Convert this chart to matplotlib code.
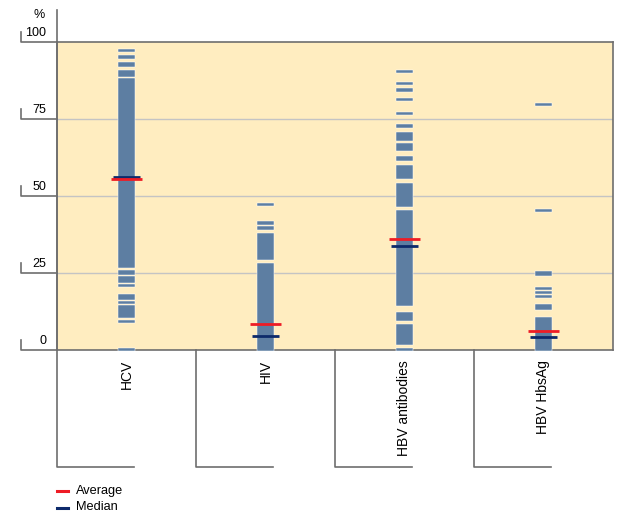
import matplotlib
matplotlib.use("Agg")
import matplotlib.pyplot as plt
from matplotlib.lines import Line2D
import matplotlib.transforms as mtransforms

plt.rcParams['font.family'] = ['Liberation Sans', 'DejaVu Sans']

# ---- data ----
categories = ["HCV", "HIV", "HBV antibodies", "HBV HbsAg"]

hcv_low  = [96.8, 94.5, 92.0, 88.6, 26.7, 24.4, 21.9, 20.5, 16.2, 14.9, 10.3, 8.9, -0.3]
hcv_high = [97.7, 95.8, 93.5, 90.9, 88.3, 26.1, 24.0, 21.5, 18.2, 15.9, 14.5, 9.8, 0.6]

hiv_low  = [46.8, 40.7, 39.0, 29.2, -0.3]
hiv_high = [47.7, 41.9, 40.3, 38.0, 28.2]

hbvab_low  = [89.9, 86.0, 83.8, 80.8, 76.3, 72.1, 67.9, 64.6, 61.4, 55.5, 46.4, 14.3, 9.4, 1.6, -0.3]
hbvab_high = [90.9, 87.0, 85.1, 81.8, 77.3, 73.4, 70.8, 67.2, 63.0, 60.1, 54.2, 45.5, 12.3, 8.4, 0.6]

hbsag_low  = [79.2, 44.8, 24.0, 19.5, 18.2, 16.9, 13.0, -0.3]
hbsag_high = [80.2, 45.8, 25.6, 20.5, 19.2, 17.9, 14.9, 10.7]

averages = [55.6, 8.6, 36.2, 6.3]
medians  = [56.2, 4.4, 33.9, 4.1]

yticks = [0, 25, 50, 75, 100]

# ---- styles ----
BG = "#FFEDC0"
BAR = "#5D7EA2"
RED = "#EE1C25"
NAVY = "#0D2A6B"
AXC = "#6E6E6E"
GRID = "#C4C4C4"

W, H = 640, 525
fig = plt.figure(figsize=(6.4, 5.25), dpi=100)
ax = fig.add_axes([57 / W, 1 - 350 / H, 556 / W, 308 / H])
ax.set_facecolor(BG)
ax.set_xlim(-0.5, 3.5)
ax.set_ylim(0, 100)
for s in ax.spines.values():
    s.set_color(AXC)
    s.set_linewidth(1.2)
    s.set_zorder(2)
ax.set_xticks([])
ax.set_yticks([])

# gridlines
for v in yticks[1:-1]:
    ax.axhline(v, color=GRID, lw=1.0, zorder=1)

spans = [(hcv_low, hcv_high), (hiv_low, hiv_high), (hbvab_low, hbvab_high), (hbsag_low, hbsag_high)]
for i, (lo, hi) in enumerate(spans):
    heights = [h - l for l, h in zip(lo, hi)]
    ax.bar([i] * len(lo), heights, bottom=lo, width=0.122, color=BAR,
           edgecolor="white", linewidth=0.35, zorder=3, clip_on=False)

for i, (a, m) in enumerate(zip(averages, medians)):
    ax.hlines(m, i - 0.097, i + 0.097, color=NAVY, lw=2.0, zorder=4)
    ax.hlines(a, i - 0.112, i + 0.112, color=RED, lw=2.0, zorder=5)

# left axis extension + tick brackets (figure pixel coords)
def fx(px):
    return px / W

def fy(py):
    return 1 - py / H

def ypix(v):
    return 350 - v * 3.08

fig.add_artist(Line2D([fx(57), fx(57)], [fy(350), fy(10)], color=AXC, lw=1.2))
for v in yticks:
    yp = ypix(v)
    fig.add_artist(Line2D([fx(20.5), fx(20.5), fx(57)], [fy(yp - 10), fy(yp), fy(yp)],
                          color=AXC, lw=1.2))
    fig.text(fx(46), fy(yp - 3.0), str(v), ha="right", va="bottom", fontsize=9, color="black")
fig.text(fx(39.5), fy(14.5), "%", ha="center", va="center", fontsize=9, color="black")

# category brackets and labels
trans = mtransforms.blended_transform_factory(ax.transData, ax.transAxes)
ybot = (350 - 467) / 308
for i, c in enumerate(categories):
    ax.add_line(Line2D([i - 0.5, i - 0.5, i + 0.055], [0, ybot, ybot], transform=trans,
                       color=AXC, lw=1.2, clip_on=False))
    ax.text(i, -10.0 / 308, c, transform=trans, rotation=90, ha="center", va="top",
            fontsize=10, color="black")

# legend
fig.add_artist(Line2D([fx(57), fx(67.5)], [fy(491), fy(491)], color=RED, lw=2.2))
fig.text(fx(76), fy(491), "Average", ha="left", va="center", fontsize=9.2)
fig.add_artist(Line2D([fx(57), fx(67.5)], [fy(507.5), fy(507.5)], color=NAVY, lw=2.2))
fig.text(fx(76), fy(507.5), "Median", ha="left", va="center", fontsize=9.2)

fig.savefig("out.png", dpi=100)
